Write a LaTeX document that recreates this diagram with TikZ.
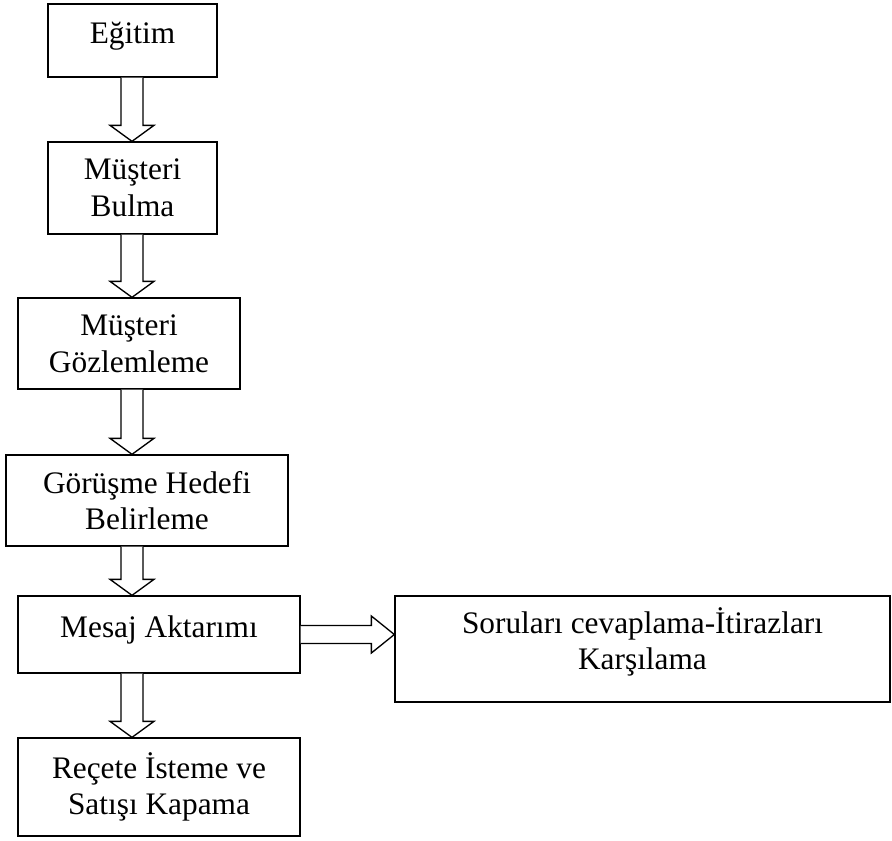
\documentclass[tikz,border=0pt]{standalone}
\usepackage{fontspec}
\setmainfont{Liberation Serif}
\usepackage{tikz}
\usetikzlibrary{calc}

% hollow block arrow going down between two boxes, on the common axis
\newcommand{\fatdown}[2]{%
  \draw[fat] let \p1=(#1.south -| axis), \p2=(#2.north -| axis) in
    (\x1-8.25pt,\y1) -- (\x1-8.25pt,\y2+12pt) -- (\x1-16.5pt,\y2+12pt)
    -- (\x1,\y2) -- (\x1+16.5pt,\y2+12pt) -- (\x1+8.25pt,\y2+12pt)
    -- (\x1+8.25pt,\y1);}

\begin{document}
\begin{tikzpicture}[x=0.75pt, y=-0.75pt,
  box/.style={rectangle, draw, line width=1pt, inner sep=0pt, align=center,
              font=\fontsize{23.5}{27.5}\selectfont},
  fat/.style={draw, line width=1pt, fill=white, line join=miter},
]
\useasboundingbox (0,0) rectangle (892,840);
\coordinate (axis) at (132,0);

\node[box, minimum width=126.75pt, minimum height=54.75pt, text depth=11pt]
  (egitim) at (132.5, 40.5) {Eğitim};
\node[box, minimum width=126.75pt, minimum height=69pt]
  (bulma) at (132.5, 188) {Müşteri\\Bulma};
\node[box, minimum width=166.5pt, minimum height=68.25pt]
  (gozlem) at (129, 343.5) {Müşteri\\Gözlemleme};
\node[box, minimum width=211.5pt, minimum height=68.25pt]
  (hedef) at (147, 500.5) {Görüşme Hedefi\\Belirleme};
\node[box, minimum width=211.5pt, minimum height=57.75pt, text depth=11.5pt]
  (mesaj) at (159, 634.5) {Mesaj Aktarımı};
\node[box, minimum width=211.5pt, minimum height=73.5pt]
  (recete) at (159, 787) {Reçete İsteme ve\\Satışı Kapama};
\node[box, minimum width=371.25pt, minimum height=79.5pt, text depth=15.5pt]
  (soru) at (642.5, 649) {Soruları cevaplama-İtirazları\\Karşılama};

\fatdown{egitim}{bulma}
\fatdown{bulma}{gozlem}
\fatdown{gozlem}{hedef}
\fatdown{hedef}{mesaj}
\fatdown{mesaj}{recete}

\draw[fat] let \p1=(mesaj.east), \p2=(soru.west) in
  (\x1,\y1+6.75pt) -- (\x2-17.25pt,\y1+6.75pt) -- (\x2-17.25pt,\y1+13.9pt)
  -- (\x2,\y1) -- (\x2-17.25pt,\y1-13.9pt) -- (\x2-17.25pt,\y1-6.75pt)
  -- (\x1,\y1-6.75pt);
\end{tikzpicture}
\end{document}
